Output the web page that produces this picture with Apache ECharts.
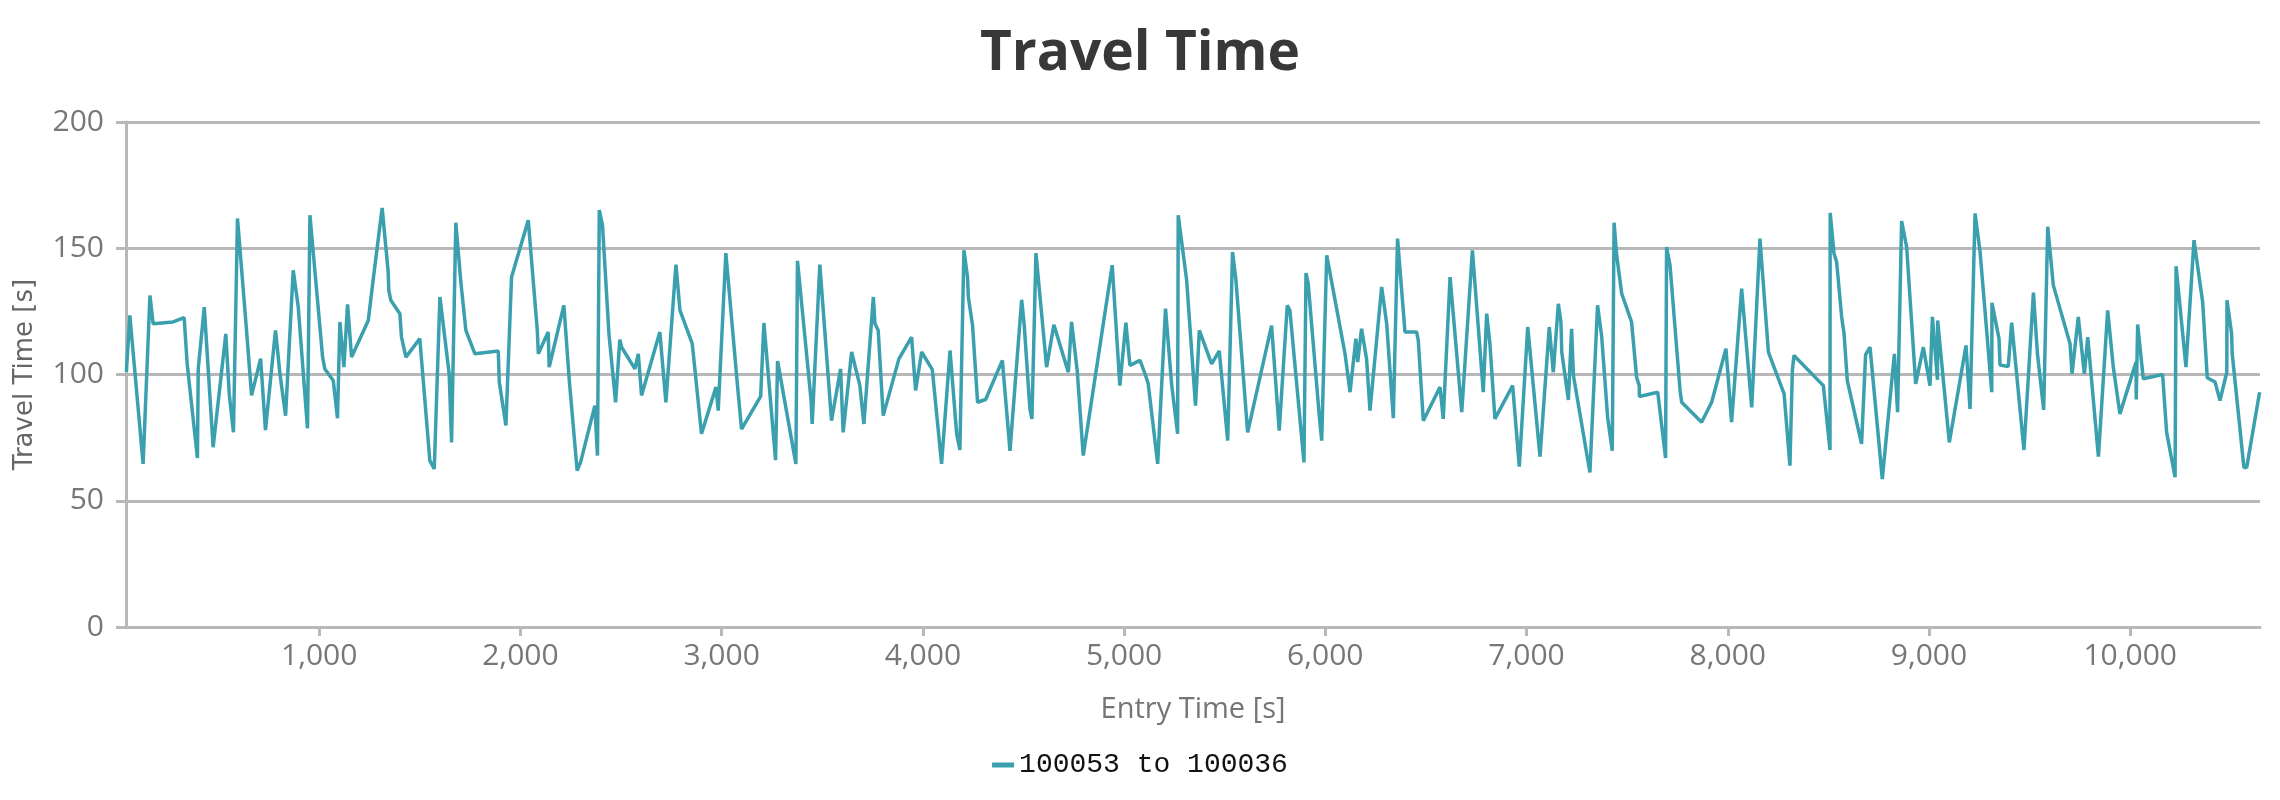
<!DOCTYPE html>
<html>
<head>
<meta charset="utf-8">
<script src="https://cdn.jsdelivr.net/npm/echarts@6/dist/echarts.min.js"></script>
<style>
html,body{margin:0;padding:0;background:#fff;}
#chart{width:2280px;height:800px;}
</style>
</head>
<body>
<div id="chart"></div>
<script>
const entryTime = [
42,59,125,159,175,274,329,344,395,399,429,473,536,553,574,594,639,664,709,733,783,805,833,871,896,942,954,1017,1028,1070,1091,1103,1123,1141,1161,1244,1268,1313,1343,1346,1356,1401,1409,1431,1500,1550,1572,1600,1646,1658,1679,1704,1729,1774,
1890,1895,1928,1956,2039,2084,2089,2138,2143,2216,2243,2282,2299,2370,2383,2392,2408,2440,2473,2494,2503,2569,2586,2602,2693,2723,2773,2793,2854,2900,2972,2983,3021,3078,3099,3194,3210,3268,3278,3369,3377,3444,3450,3488,3546,
3591,3604,3646,3687,3707,3754,3762,3778,3803,3881,3944,3964,3994,4047,4093,4135,4168,4184,4204,4222,4226,4247,4272,4312,4395,4433,4491,4504,4532,4542,4562,4615,4651,4723,4739,4767,4797,4941,4979,5009,5029,5079,5104,5120,5167,5206,5236,5266,5269,5311,5355,5374,
5435,5473,5515,5539,5556,5614,5733,5771,5811,5824,5894,5904,5915,5970,5982,6007,6098,6123,6152,6161,6180,6205,6222,6280,6305,6338,6359,6396,6454,6462,6487,6570,6586,6620,6678,6731,6785,6802,6818,6843,6931,6964,7006,7067,7113,7133,7158,
7171,7175,7208,7224,7233,7315,7353,7373,7403,7426,7435,7448,7473,7522,7547,7560,7561,7652,7691,7696,7713,7763,7771,7870,7920,7991,8019,8069,8119,8160,8202,8280,8309,8321,8329,8475,8508,8509,8528,8541,8566,8578,8594,8665,8685,8707,8768,8828,8844,8864,8889,8934,
8972,9005,9017,9042,9043,9101,9184,9204,9229,9254,9312,9313,9348,9353,9394,9411,9472,9519,9539,9570,9590,9618,9701,9711,9742,9772,9789,9842,9888,9916,9949,10029,10030,10037,10065,10161,10181,10223,10228,10277,10317,10360,10383,10422,10446,10480,10481,10504,10507,10565,10579,10643
];
const travelTime = [
101,123.4,64.6,131.3,120.1,120.8,122.5,104.2,66.9,102.2,126.7,71.2,116.1,92.3,77.1,161.8,117.5,91.7,106.3,78.0,117.5,100.3,83.7,141.3,126.7,78.7,163.1,106.9,102.2,97.6,82.7,120.8,102.9,127.8,106.9,121.4,137.3,166,140.6,133.3,129.4,124.1,114.8,106.9,114.2,65.9,62.6,130.7,100.3,73.1,160.1,136.6,117.5,108.2,
109.3,97.0,79.8,138.6,161.1,117.5,108.2,116.8,102.9,127.4,97.6,61.9,65.2,87.7,67.9,165.1,159.1,116.1,89.0,113.8,110.8,102.2,108.2,91.7,116.8,89.0,143.5,125.4,112.2,76.5,95.0,85.7,148.1,96.3,78.4,91.3,120.4,66.1,105.3,64.6,145.0,90.3,80.4,143.5,81.7,
102.2,77.1,108.9,95.6,80.4,130.7,120.1,117.5,83.7,106.2,114.8,93.7,108.9,101.9,64.6,109.5,76.5,70.1,149.2,138.6,130.7,119.4,89.0,90.1,105.6,69.8,129.6,119.4,86.4,82.4,148.1,102.9,119.7,100.9,120.8,101.6,67.9,143.3,95.6,120.5,103.6,105.6,100.3,96.3,64.6,126.1,96.3,76.5,163.1,137.3,87.7,117.5,
104.2,109.3,73.8,148.5,137.3,77.1,119.4,77.8,127.4,125.4,65.2,140.2,136.0,83.7,73.8,147.2,108.2,93.0,114.2,104.9,118.1,106.2,85.7,134.7,120.1,82.7,153.8,116.8,116.8,113.5,81.7,95.0,82.4,138.6,85.1,149.2,93.0,124.1,112.2,82.4,95.6,63.5,118.8,67.5,118.8,100.9,128.0,
120.8,108.9,89.9,118.1,99.6,61.2,127.4,115.5,83.1,69.8,160.1,147.2,132.0,120.8,98.9,95.6,91.3,93.0,66.9,150.5,143.3,93.7,89.0,81.1,89.0,110.2,81.1,134.0,87.0,153.8,108.9,92.3,63.9,101.6,107.5,95.6,70.1,164.0,147.9,144.6,122.8,116.1,97.6,72.5,107.9,110.8,58.6,108.2,85.1,160.8,150.5,96.3,
110.8,95.6,122.8,97.9,121.4,73.1,111.5,86.4,163.8,148.5,93.0,128.4,114.2,103.8,103.2,120.5,70.1,132.4,108.2,86.0,158.5,135.3,112.2,100.3,122.8,100.3,114.8,67.5,125.4,102.9,84.4,104.9,90.1,119.8,98.3,100.0,77.1,59.3,142.9,102.9,153.2,128.7,98.7,97.0,89.7,100.9,129.4,116.1,108.2,63.2,63.2,93.0
];
const xTicks = [1000,2000,3000,4000,5000,6000,7000,8000,9000,10000];
const yTicks = [0,50,100,150,200];
const seriesName = '100053 to 100036';

const chart = echarts.init(document.getElementById('chart'), null, {renderer:'canvas'});
const gridColor = '#b8b8b8';
chart.setOption({
  animation:false,
  backgroundColor:'#ffffff',
  title:{
    text:'Travel Time', left:'center', top:22,
    textStyle:{fontFamily:'Open Sans', fontWeight:'bold', fontSize:55, color:'#383838'}
  },
  legend:{
    bottom:16, left:'center', itemWidth:22, itemHeight:5, itemGap:10,
    icon:'rect',
    data:[{name:seriesName, icon:'rect'}],
    textStyle:{fontFamily:'Liberation Mono', fontSize:28, color:'#111'}
  },
  grid:{left:126, right:20, top:122, bottom:173, containLabel:false},
  xAxis:{
    type:'value', min:40, max:10645,
    name:'Entry Time [s]', nameLocation:'middle', nameGap:68,
    nameTextStyle:{fontFamily:'Open Sans', fontSize:29, color:'#757575'},
    axisLine:{show:true, onZero:false, lineStyle:{color:gridColor, width:3}},
    axisTick:{show:true, length:9, customValues:xTicks, lineStyle:{color:gridColor, width:3}},
    axisLabel:{customValues:xTicks, margin:14, fontFamily:'Open Sans', fontSize:30, color:'#777777',
      formatter:v=>v.toLocaleString('en-US')},
    splitLine:{show:false}
  },
  yAxis:{
    type:'value', min:0, max:200, interval:50,
    name:'Travel Time [s]', nameLocation:'middle', nameGap:88, nameRotate:90,
    nameTextStyle:{fontFamily:'DejaVu Sans', fontSize:26, color:'#666666'},
    axisLine:{show:true, lineStyle:{color:gridColor, width:3}},
    axisTick:{show:true, length:10, lineStyle:{color:gridColor, width:3}},
    axisLabel:{margin:22, fontFamily:'Open Sans', fontSize:30, color:'#777777'},
    splitLine:{show:true, lineStyle:{color:gridColor, width:3}}
  },
  series:[{
    name:seriesName, type:'line', showSymbol:false, symbol:'none',
    data: entryTime.map((x,i)=>[x, travelTime[i]]),
    lineStyle:{color:'#3aa0ae', width:3.5},
    itemStyle:{color:'#3aa0ae'}
  }]
});
</script>
</body>
</html>
